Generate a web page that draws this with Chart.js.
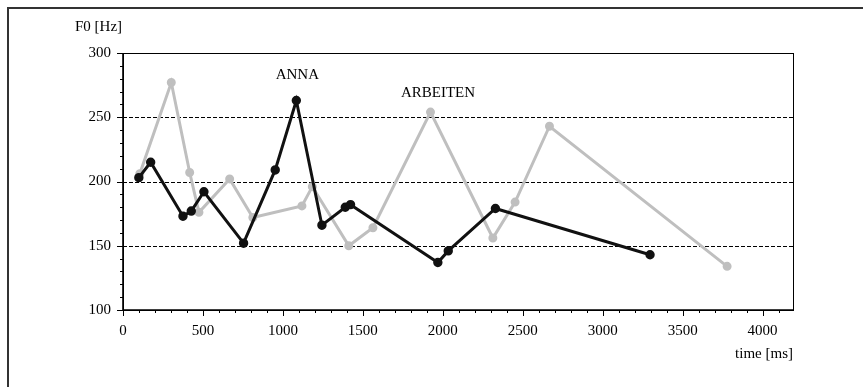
<!DOCTYPE html>
<html>
<head>
<meta charset="utf-8">
<script src="https://cdn.jsdelivr.net/npm/chart.js@4.4.0/dist/chart.umd.min.js"></script>
<style>
  html, body { margin: 0; padding: 0; background: #fff; overflow: hidden; }
  #wrap { position: relative; width: 863px; height: 387px; }
  #frame { position: absolute; left: 7px; top: 7px; width: 900px; height: 500px; border: 2px solid #333; box-sizing: border-box; pointer-events: none; }
  canvas { position: absolute; left: 0; top: 0; }
</style>
</head>
<body>
<div id="wrap">
  <div id="frame"></div>
  <canvas id="c" width="863" height="387"></canvas>
</div>
<script>
// ---- data ----
const timesBlack = [99, 173, 375, 427, 506, 754, 952, 1084, 1244, 1390, 1423, 1969, 2034, 2329, 3296];
const f0Black    = [203, 215, 173, 177, 192, 152, 209, 263, 166, 180, 182, 137, 146, 179, 143];
const timesGray  = [105, 302, 417, 475, 667, 812, 1119, 1184, 1412, 1563, 1923, 2313, 2452, 2667, 3778];
const f0Gray     = [206, 277, 207, 176, 202, 172, 181, 196, 150, 164, 254, 156, 184, 243, 134];
const xTickValues = [0, 500, 1000, 1500, 2000, 2500, 3000, 3500, 4000];
const yTickValues = [100, 150, 200, 250, 300];
const yGridValues = [150, 200, 250];
const wordLabels = [
  { text: 'ANNA', t: 1090, f: 283 },
  { text: 'ARBEITEN', t: 1970, f: 269 }
];
const xAxisTitle = 'time [ms]';
const yAxisTitle = 'F0 [Hz]';

const toPoints = (xs, ys) => xs.map((x, i) => ({ x: x, y: ys[i] }));
const FONT = '"Liberation Serif", "Times New Roman", serif';

const decor = {
  id: 'decor',
  beforeDatasetsDraw(chart) {
    const { ctx, chartArea: a, scales: { x, y } } = chart;
    ctx.save();
    ctx.strokeStyle = '#000';
    ctx.lineWidth = 1;
    ctx.setLineDash([4, 2]);
    yGridValues.forEach(v => {
      const py = Math.round(y.getPixelForValue(v)) + 0.5;
      ctx.beginPath(); ctx.moveTo(a.left, py); ctx.lineTo(a.right, py); ctx.stroke();
    });
    ctx.restore();
  },
  afterDraw(chart) {
    const { ctx, chartArea: a, scales: { x, y } } = chart;
    ctx.save();
    ctx.strokeStyle = '#000';
    ctx.setLineDash([]);
    ctx.lineWidth = 1;
    ctx.strokeRect(Math.round(a.left) + 0.5, Math.round(a.top) + 0.5, Math.round(a.right - a.left), Math.round(a.bottom - a.top));
    ctx.lineWidth = 1.6;
    ctx.beginPath();
    ctx.moveTo(a.left, a.top); ctx.lineTo(a.left, a.bottom); ctx.lineTo(a.right, a.bottom);
    ctx.stroke();
    ctx.lineWidth = 1;
    for (let v = 100; v <= 300; v += 10) {
      const py = Math.round(y.getPixelForValue(v)) + 0.5;
      const len = (v % 50 === 0) ? 6 : 3;
      ctx.beginPath(); ctx.moveTo(a.left - len, py); ctx.lineTo(a.left, py); ctx.stroke();
    }
    for (let v = 0; v <= 4100; v += 100) {
      const px = Math.round(x.getPixelForValue(v)) + 0.5;
      const len = (v % 500 === 0) ? 6 : 3;
      ctx.beginPath(); ctx.moveTo(px, a.bottom); ctx.lineTo(px, a.bottom + len); ctx.stroke();
    }
    ctx.fillStyle = '#000';
    ctx.font = '15px ' + FONT;
    ctx.textBaseline = 'middle';
    ctx.textAlign = 'center';
    wordLabels.forEach(l => {
      ctx.fillText(l.text, x.getPixelForValue(l.t), y.getPixelForValue(l.f));
    });
    ctx.textAlign = 'right';
    ctx.fillText(xAxisTitle, a.right, a.bottom + 44);
    ctx.textAlign = 'left';
    ctx.fillText(yAxisTitle, 75, a.top - 26);
    ctx.restore();
  }
};

new Chart(document.getElementById('c'), {
  type: 'scatter',
  data: {
    datasets: [
      {
        data: toPoints(timesBlack, f0Black),
        showLine: true,
        borderColor: '#111',
        backgroundColor: '#111',
        borderWidth: 3,
        pointRadius: 3.2,
        pointHoverRadius: 3.2,
        order: 1
      },
      {
        data: toPoints(timesGray, f0Gray),
        showLine: true,
        borderColor: '#bfbfbf',
        backgroundColor: '#bfbfbf',
        borderWidth: 3,
        pointRadius: 3,
        pointHoverRadius: 3,
        order: 2
      }
    ]
  },
  options: {
    responsive: false,
    animation: false,
    events: [],
    layout: { padding: { left: 0, top: 53, right: 70, bottom: 0 } },
    plugins: { legend: { display: false }, tooltip: { enabled: false } },
    scales: {
      x: {
        type: 'linear',
        min: 0, max: 4190,
        grid: { display: false, drawTicks: false },
        border: { display: false },
        afterBuildTicks(s) { s.ticks = xTickValues.map(v => ({ value: v })); },
        ticks: {
          padding: 12, autoSkip: false,
          color: '#000', font: { family: FONT, size: 15 },
          maxRotation: 0,
          callback: v => String(v)
        },
        afterFit(s) { s.height = 77; }
      },
      y: {
        type: 'linear',
        min: 100, max: 300,
        grid: { display: false, drawTicks: false },
        border: { display: false },
        afterBuildTicks(s) { s.ticks = yTickValues.map(v => ({ value: v })); },
        ticks: {
          padding: 12, autoSkip: false,
          color: '#000', font: { family: FONT, size: 15 },
          callback: v => String(v)
        },
        afterFit(s) { s.width = 123; }
      }
    }
  },
  plugins: [decor]
});
</script>
</body>
</html>
